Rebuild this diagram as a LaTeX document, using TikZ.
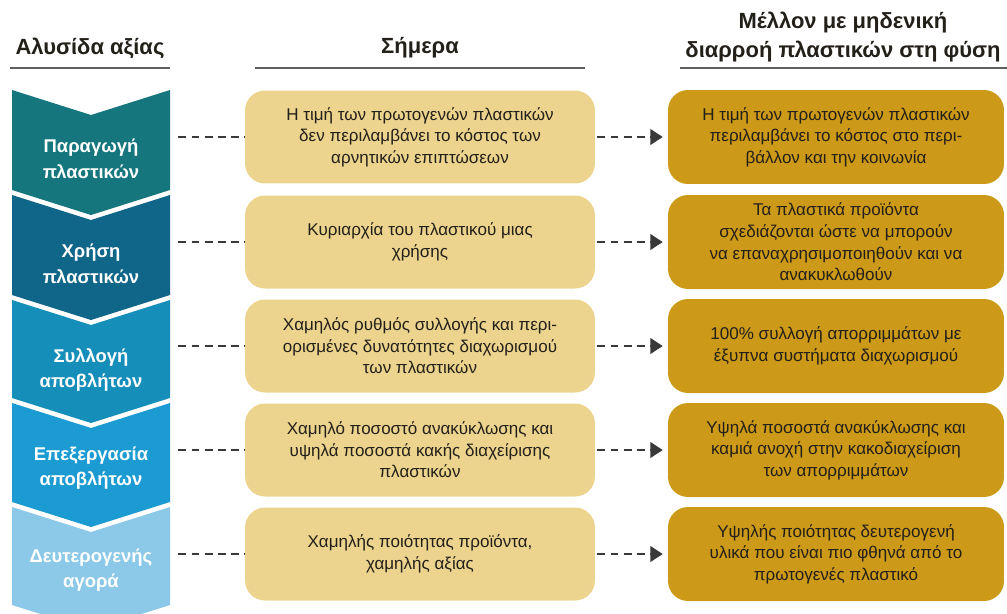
\documentclass[tikz,border=0pt]{standalone}
\usepackage{fontspec}
\setmainfont{Liberation Sans}
\usepackage{xcolor}
\usepackage{tikz}
\usetikzlibrary{positioning, arrows.meta}
\definecolor{chainA}{RGB}{22,118,125}
\definecolor{chainB}{RGB}{16,102,137}
\definecolor{chainC}{RGB}{22,142,186}
\definecolor{chainD}{RGB}{28,154,210}
\definecolor{chainE}{RGB}{140,200,232}
\definecolor{todaybg}{RGB}{236,212,142}
\definecolor{futurebg}{RGB}{204,153,24}
\definecolor{txtdark}{RGB}{35,31,25}
\definecolor{rulegray}{RGB}{95,95,95}

\begin{document}
\begin{tikzpicture}[
        x=0.02cm, y=-0.02cm,
        head/.style={font=\fontsize{12.5}{16}\selectfont\bfseries, text=txtdark, align=center},
        chainlbl/.style={minimum width=3.16cm, inner sep=0pt, align=center, text=white, font=\fontsize{10.5}{14.5}\selectfont\bfseries},
        box/.style={rectangle, rounded corners=0.4cm, minimum width=7cm, minimum height=1.86cm, align=center, text=txtdark, font=\fontsize{9.7}{12.3}\selectfont, fill=todaybg},
        fbox/.style={box, minimum width=6.72cm, minimum height=1.88cm, fill=futurebg},
        link/.style={dash pattern=on 4.5pt off 3pt, line width=0.8pt, draw=rulegray!60!black},
        arr/.style={link, -{Triangle[length=7pt, width=9pt]}},
        rule/.style={line width=1pt, draw=rulegray}
    ]
    \useasboundingbox (0,0) rectangle (1007,613);
    \clip (0,0) rectangle (1007,613);

    % headers
    \node[head] (h1) at (90,48) {Αλυσίδα αξίας};
    \node[head] (h2) at (420,48) {Σήμερα};
    \node[head] (h3) at (843,37) {Μέλλον με μηδενική\\διαρροή πλαστικών στη φύση};
    \draw[rule] (10,68) -- (170,68);
    \draw[rule] (255,68) -- (585,68);
    \draw[rule] (680,68) -- (1007,68);

    % value chain
    \foreach \t/\b/\col in {90/190/chainA, 195/295/chainB, 300/398/chainC, 403/502/chainD, 507/605/chainE}
        \fill[\col] (12,\t) -- (91,{\t+25}) -- (170,\t) -- (170,\b) -- (91,{\b+25}) -- (12,\b) -- cycle;

    \node[chainlbl] (c1) at (91,159) {Παραγωγή\\πλαστικών};
    \node[chainlbl] (c2) at (91,264) {Χρήση\\πλαστικών};
    \node[chainlbl] (c3) at (91,370) {Συλλογή\\αποβλήτων};
    \node[chainlbl] (c4) at (91,468) {Επεξεργασία\\αποβλήτων};
    \node[chainlbl] (c5) at (91,570) {Δευτερογενής\\αγορά};

    % today
    \node[box] (m1) at (420,137) {Η τιμή των πρωτογενών πλαστικών\\δεν περιλαμβάνει το κόστος των\\αρνητικών επιπτώσεων};
    \node[box] (m2) at (420,242) {Κυριαρχία του πλαστικού μιας\\χρήσης};
    \node[box] (m3) at (420,346) {Χαμηλός ρυθμός συλλογής και περι-\\ορισμένες δυνατότητες διαχωρισμού\\των πλαστικών};
    \node[box] (m4) at (420,450) {Χαμηλό ποσοστό ανακύκλωσης και\\υψηλά ποσοστά κακής διαχείρισης\\πλαστικών};
    \node[box] (m5) at (420,554) {Χαμηλής ποιότητας προϊόντα,\\χαμηλής αξίας};

    % future
    \node[fbox] (f1) at (836,137) {Η τιμή των πρωτογενών πλαστικών\\περιλαμβάνει το κόστος στο περι-\\βάλλον και την κοινωνία};
    \node[fbox] (f2) at (836,242) {Τα πλαστικά προϊόντα\\σχεδιάζονται ώστε να μπορούν\\να επαναχρησιμοποιηθούν και να\\ανακυκλωθούν};
    \node[fbox] (f3) at (836,346) {100\% συλλογή απορριμμάτων με\\έξυπνα συστήματα διαχωρισμού};
    \node[fbox] (f4) at (836,450) {Υψηλά ποσοστά ανακύκλωσης και\\καμιά ανοχή στην κακοδιαχείριση\\των απορριμμάτων};
    \node[fbox] (f5) at (836,554) {Υψηλής ποιότητας δευτερογενή\\υλικά που είναι πιο φθηνά από το\\πρωτογενές πλαστικό};

    \foreach \i in {1,...,5} {
        \draw[link] ([xshift=0.16cm]c\i.east |- m\i.west) -- (m\i.west);
        \draw[arr, shorten <=0.04cm, shorten >=0.1cm] (m\i.east) -- (f\i.west);
    }

    \end{tikzpicture}
\end{document}
